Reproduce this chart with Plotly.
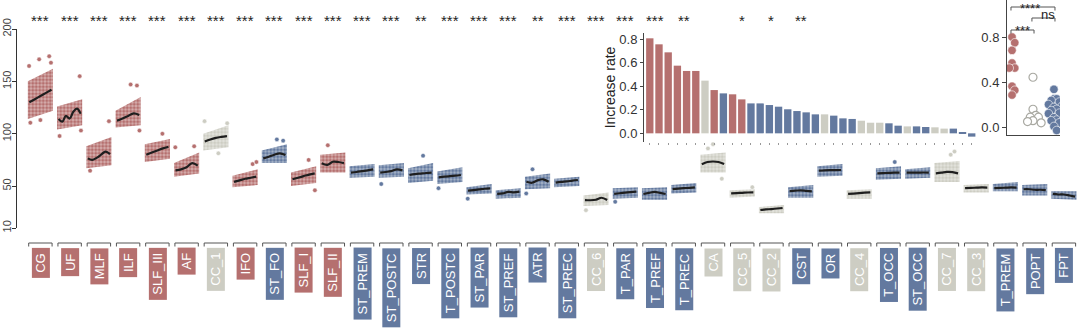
import plotly.graph_objects as go
import numpy as np

# ---------------- data ----------------
tracts = ["CG", "UF", "MLF", "ILF", "SLF_III", "AF", "CC_1", "IFO", "ST_FO", "SLF_I",
          "SLF_II", "ST_PREM", "ST_POSTC", "STR", "T_POSTC", "ST_PAR", "ST_PREF", "ATR",
          "ST_PREC", "CC_6", "T_PAR", "T_PREF", "T_PREC", "CA", "CC_5", "CC_2", "CST",
          "OR", "CC_4", "T_OCC", "ST_OCC", "CC_7", "CC_3", "T_PREM", "POPT", "FPT"]

groups = ["assoc", "assoc", "assoc", "assoc", "assoc", "assoc", "comm", "assoc", "proj", "assoc",
          "assoc", "proj", "proj", "proj", "proj", "proj", "proj", "proj",
          "proj", "comm", "proj", "proj", "proj", "comm", "comm", "comm", "proj",
          "proj", "comm", "proj", "proj", "comm", "comm", "proj", "proj", "proj"]

stars = ["***", "***", "***", "***", "***", "***", "***", "***", "***", "***",
         "***", "***", "***", "**", "***", "***", "***", "**",
         "***", "***", "***", "***", "**", "", "*", "*", "**",
         "", "", "", "", "", "", "", "", ""]

increase_rate = [0.806, 0.755, 0.687, 0.574, 0.529, 0.529, 0.447, 0.367, 0.339, 0.331,
                 0.288, 0.254, 0.254, 0.240, 0.226, 0.204, 0.189, 0.178,
                 0.161, 0.161, 0.150, 0.127, 0.122, 0.107, 0.090, 0.090, 0.085,
                 0.065, 0.059, 0.059, 0.054, 0.051, 0.040, 0.040, 0.008, -0.028]

# smoothed trend (black line) per tract, left -> right
trend = [
    [130, 133, 136, 139, 142],
    [114, 111.5, 117, 114.5, 121, 124, 119],
    [76.5, 75, 77, 80, 83, 80.5],
    [112.5, 114.5, 117, 119.5, 118],
    [80, 82, 84, 86, 87.5],
    [65, 66, 68, 72, 69.5],
    [92.5, 94.5, 96, 97, 97.8],
    [54, 55.5, 57, 58, 59],
    [76.5, 78, 80, 81.3, 79.7],
    [56.5, 58, 59.5, 61, 62.2],
    [71.8, 70.2, 73.3, 73, 72],
    [62.8, 63.5, 64.3, 65.1, 66],
    [62.8, 63.5, 64.3, 66, 65],
    [60.6, 61.5, 62, 62.5, 62.8],
    [58.4, 59, 59.5, 60, 60.6],
    [45.6, 46.2, 46.8, 47.5, 47.9],
    [42.5, 43, 44.5, 44, 44.7],
    [54.2, 53.2, 55.5, 56.5, 54.2],
    [53.3, 54, 54.5, 55.2, 55.8],
    [36.7, 36.5, 37, 38.9, 36.7],
    [42.5, 43.2, 43.8, 44.3, 44.7],
    [42.5, 43.5, 44.5, 43.5, 42.5],
    [47.2, 47.6, 48, 48.4, 48.8],
    [70.8, 73, 73.5, 73, 71],
    [43.1, 43.3, 43.6, 43.9, 44.1],
    [27.2, 27.7, 28.1, 28.6, 29.1],
    [45.3, 45.6, 46, 45.5, 45],
    [64.7, 65, 65.2, 65.3, 65.4],
    [42.5, 42.9, 43.3, 43.7, 44.1],
    [62.2, 62.4, 62.6, 62.8, 62.8],
    [62.8, 62.8, 62.8, 63, 62.8],
    [62.2, 62.8, 63.5, 63.3, 62.2],
    [48, 48.3, 48.5, 48.7, 48.6],
    [48, 48.3, 48.5, 48.7, 48.6],
    [47, 47, 46.5, 46.5, 46.2],
    [42.5, 42, 42, 41, 39.9],
]

# dense point-cloud envelope (left, right)
cloud_lo = [[114, 122], [104, 108], [67, 70], [106, 108], [73, 76], [59, 62], [84, 87], [49, 51],
            [72, 72], [50, 53], [63, 63], [58, 59], [58, 59], [53, 55], [52, 54], [42, 43],
            [38, 39], [47, 48], [49, 50], [31, 32], [38, 39], [37, 37], [43, 44], [63, 63],
            [39, 40], [24, 24], [39, 39], [59, 60], [38, 38], [56, 57], [57, 58], [54, 54],
            [44, 44], [45, 45], [41, 41], [38, 37]]
cloud_hi = [[150, 162], [126, 133], [88, 97], [122, 135], [90, 95], [72, 82], [100, 108], [60, 66],
            [84, 90], [63, 69], [80, 82], [69, 71], [70, 72], [67, 72], [64, 68], [49, 52],
            [46, 48], [59, 62], [57, 59], [41, 44], [48, 49], [48, 49], [51, 53], [80, 82],
            [46, 47], [30, 32], [49, 51], [69, 71], [46, 47], [67, 69], [66, 68], [72, 74],
            [51, 52], [52, 54], [51, 52], [45, 45]]

# sparse points outside the dense cloud: tract index, relative position (0..1), value
outlier_tract = [0, 0, 0, 0, 0, 0, 1, 1, 1, 2, 2, 3, 3, 3, 4, 5, 5, 6, 6, 6, 7, 7, 8, 8,
                 9, 9, 10, 12, 13, 14, 15, 17, 17, 19, 20, 23, 23, 23, 24, 29, 31, 31]
outlier_pos = [0.05, 0.45, 0.85, 0.92, 0.1, 0.5, 0.9, 0.1, 0.95, 0.9, 0.15, 0.6, 0.85, 0.95,
               0.7, 0.05, 0.8, 0.05, 0.95, 0.6, 0.8, 0.95, 0.85, 0.6, 0.7, 0.95, 0.3, 0.1,
               0.6, 0.05, 0.05, 0.05, 0.3, 0.1, 0.1, 0.5, 0.85, 0.3, 0.9, 0.75, 0.8, 0.65]
outlier_val = [164.7, 171, 174, 167.8, 110.5, 113, 155, 97.8, 103, 112, 64.7, 147, 146, 103,
               100, 87, 88, 112, 110, 81.3, 71, 73, 93.4, 94.6, 75, 46, 89, 52,
               79, 48, 38, 43, 66, 27, 35, 90, 57, 86, 49, 73, 83, 80]

group_names = ["assoc", "comm", "proj"]
colors = {"assoc": "#b5706f", "comm": "#cdcdc3", "proj": "#63799f"}
colors_rgb = {"assoc": (181, 112, 111), "comm": (205, 205, 195), "proj": (99, 121, 159)}

FONT = "Liberation Sans, Arial, sans-serif"
W, H = 1080, 330
NBSP = "\u00a0"


def py(px):
    return (H - px) / H


def px_x(px):
    return px / W


fig = go.Figure()

# ---------------- main panel ----------------
half_cloud = 0.43
half_line = 0.38
for i, name in enumerate(tracts):
    g = groups[i]
    r, gg, b = colors_rgb[g]
    x0, x1 = i - half_cloud, i + half_cloud
    fig.add_trace(go.Scatter(
        x=[x0, x1, x1, x0, x0],
        y=[cloud_lo[i][0], cloud_lo[i][1], cloud_hi[i][1], cloud_hi[i][0], cloud_lo[i][0]],
        mode="lines", fill="toself", line=dict(width=0, color=colors[g]),
        fillcolor=f"rgba({r},{gg},{b},0.6)",
        fillpattern=dict(shape=".", fgcolor=colors[g], bgcolor=f"rgba({r},{gg},{b},0.55)",
                         size=3.5, solidity=0.6, fillmode="replace"),
        hoverinfo="skip", showlegend=False, xaxis="x", yaxis="y"))

# outliers
ox = [outlier_tract[k] - half_cloud + 2 * half_cloud * outlier_pos[k] for k in range(len(outlier_val))]
oc = [colors[groups[outlier_tract[k]]] for k in range(len(outlier_val))]
fig.add_trace(go.Scatter(x=ox, y=outlier_val, mode="markers",
                         marker=dict(size=4.5, color=oc, line=dict(width=0.5, color="white")),
                         hoverinfo="skip", showlegend=False, xaxis="x", yaxis="y"))

for i, vals in enumerate(trend):
    xs = np.linspace(i - half_line, i + half_line, len(vals))
    fig.add_trace(go.Scatter(x=xs, y=vals, mode="lines",
                             line=dict(color="#1e1e1e", width=2.2, shape="spline", smoothing=1.0),
                             hoverinfo="skip", showlegend=False, xaxis="x", yaxis="y"))

# ---------------- inset bar chart ----------------
fig.add_trace(go.Bar(x=list(range(len(tracts))), y=increase_rate,
                     marker=dict(color=[colors[g] for g in groups], line=dict(width=0)),
                     width=0.8, hoverinfo="skip", showlegend=False, xaxis="x2", yaxis="y2"))

# ---------------- inset strip plot ----------------
def swarm(values, step=0.13, thresh=0.075):
    placed = []
    order = sorted(range(len(values)), key=lambda k: -values[k])
    res = [0.0] * len(values)
    for k in order:
        v = values[k]
        cand = [0, step, -step, 2 * step, -2 * step, 3 * step, -3 * step]
        for c in cand:
            if all(abs(v - pv) > thresh or abs(c - po) > step * 0.9 for pv, po in placed):
                res[k] = c
                placed.append((v, c))
                break
    return res


for gi, g in enumerate(group_names):
    vals = [increase_rate[i] for i in range(len(tracts)) if groups[i] == g]
    offs = swarm(vals)
    xs = [gi + o for o in offs]
    if g == "comm":
        mk = dict(size=8, color="white", line=dict(width=1.2, color="#a9a9a2"))
    else:
        mk = dict(size=8.5, color=colors[g], line=dict(width=0.6, color="white"))
    fig.add_trace(go.Scatter(x=xs, y=vals, mode="markers", marker=mk, hoverinfo="skip",
                             showlegend=False, xaxis="x3", yaxis="y3"))

# ---------------- shapes & annotations ----------------
shapes = []
annotations = []
for i, name in enumerate(tracts):
    g = groups[i]
    # bracket above label
    shapes.append(dict(type="path", xref="x", yref="paper",
                       path=f"M {i - 0.40},{py(246.5)} L {i - 0.40},{py(243)} L {i + 0.40},{py(243)} L {i + 0.40},{py(246.5)}",
                       line=dict(color="#555555", width=1)))
    annotations.append(dict(x=i, y=py(247.5), xref="x", yref="paper", text=NBSP + name + NBSP,
                            showarrow=False, textangle=-90, xanchor="center", yanchor="top",
                            bgcolor=colors[g], borderpad=1,
                            font=dict(family=FONT, size=13, color="white")))
    if stars[i]:
        annotations.append(dict(x=i, y=py(31.3), xref="x", yref="paper", text=stars[i],
                                showarrow=False, xanchor="center", yanchor="bottom",
                                font=dict(family=FONT, size=15, color="#222222")))

# strip plot significance brackets (pixel rows from the reference)
br = [(0, 2, 7, "****", 0.85, -1), (1, 2, 18, "ns", 1.72, 4.5), (0, 1, 30, "***", 0.5, 21)]
for a, b, ypx, txt, xc, ytop in br:
    shapes.append(dict(type="path", xref="x3", yref="paper",
                       path=f"M {a - 0.05},{py(ypx + 3.5)} L {a - 0.05},{py(ypx)} L {b + 0.05},{py(ypx)} L {b + 0.05},{py(ypx + 3.5)}",
                       line=dict(color="#555555", width=1)))
    annotations.append(dict(x=xc, y=py(ytop), xref="x3", yref="paper", text=txt,
                            showarrow=False, xanchor="center", yanchor="top",
                            font=dict(family=FONT, size=13, color="#222222")))

axis_font = dict(family=FONT, size=13, color="#333333")

fig.update_layout(
    width=W, height=H,
    margin=dict(l=0, r=0, t=0, b=0, autoexpand=False),
    paper_bgcolor="white", plot_bgcolor="rgba(0,0,0,0)",
    font=dict(family=FONT, color="#333333"),
    showlegend=False,
    shapes=shapes, annotations=annotations,
    xaxis=dict(domain=[px_x(17), 1.0], range=[-0.8, 35.55], visible=False, fixedrange=True,
               automargin=False),
    yaxis=dict(domain=[py(228), py(29)], range=[10, 200], tickvals=[10, 50, 100, 150, 200],
               tickangle=-90, showline=True, linecolor="#333333", linewidth=1,
               ticks="outside", ticklen=4, tickcolor="#333333", showgrid=False, zeroline=False,
               ticklabelstandoff=-3,
               tickfont=dict(family=FONT, size=11, color="#444444"), anchor="x", automargin=False),
    xaxis2=dict(domain=[px_x(644), px_x(980)], range=[-0.63, 35.9], anchor="y2",
                tickvals=list(range(len(tracts))), showticklabels=False, ticks="outside",
                ticklen=2, tickcolor="#999999", showline=False, showgrid=False, zeroline=False,
                automargin=False),
    yaxis2=dict(domain=[py(142), py(33)], range=[-0.0735, 0.851], anchor="x2",
                tickvals=[0, 0.2, 0.4, 0.6, 0.8], ticktext=["0.0", "0.2", "0.4", "0.6", "0.8"],
                showline=True, linecolor="#444444", linewidth=1, ticks="outside", ticklen=3,
                tickcolor="#444444", showgrid=False, zeroline=False, tickfont=axis_font,
                automargin=False,
                title=dict(text="Increase rate", font=dict(family=FONT, size=14, color="#222222"),
                           standoff=0)),
    xaxis3=dict(domain=[px_x(1007), px_x(1060)], range=[-0.24, 2.29], anchor="y3",
                showticklabels=False, ticks="", showline=True, linecolor="#444444",
                linewidth=1, showgrid=False, zeroline=False, automargin=False),
    yaxis3=dict(domain=[py(135), 1.0], range=[-0.069, 1.137], anchor="x3",
                tickvals=[0, 0.4, 0.8], ticktext=["0.0", "0.4", "0.8"],
                showline=True, linecolor="#444444", linewidth=1, ticks="outside", ticklen=4,
                tickcolor="#444444", showgrid=False, zeroline=False, tickfont=axis_font,
                automargin=False),
)

fig.write_html("out.html")
